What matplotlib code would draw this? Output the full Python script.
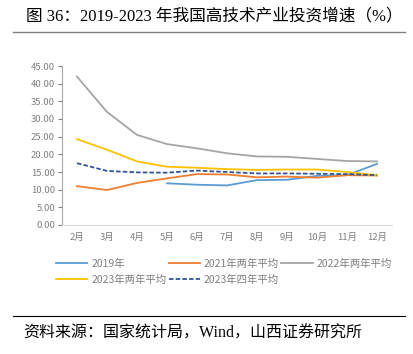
import numpy as np
import matplotlib.pyplot as plt
from matplotlib.lines import Line2D

plt.rcParams['font.family'] = ['Noto Sans CJK SC', 'DejaVu Sans']

months = ['2月', '3月', '4月', '5月', '6月', '7月', '8月', '9月', '10月', '11月', '12月']
y2019 = [np.nan, np.nan, np.nan, 11.8, 11.4, 11.2, 12.7, 12.8, 13.9, 14.1, 17.3]
y2021_avg2 = [11.0, 9.9, 11.9, 13.2, 14.4, 14.3, 13.5, 13.7, 13.4, 14.1, 14.0]
y2022_avg2 = [42.0, 32.0, 25.5, 22.9, 21.7, 20.3, 19.4, 19.3, 18.7, 18.1, 18.0]
y2023_avg2 = [24.3, 21.3, 18.0, 16.5, 16.2, 15.8, 15.6, 15.7, 15.7, 15.0, 14.1]
y2023_avg4 = [17.5, 15.3, 14.9, 14.8, 15.4, 15.0, 14.6, 14.6, 14.5, 14.4, 14.1]
yticks = np.arange(0, 50, 5)

fig = plt.figure(figsize=(4.13, 3.54), dpi=100)
ax = fig.add_axes([62/413, 1 - 225/354, (392 - 62)/413, (225 - 66)/354])

x = np.arange(len(months))
l1, = ax.plot(x, y2019, color='#5B9BD5', lw=1.3)
l2, = ax.plot(x, y2021_avg2, color='#ED7D31', lw=1.3)
l3, = ax.plot(x, y2022_avg2, color='#A5A5A5', lw=1.3)
l4, = ax.plot(x, y2023_avg2, color='#FFC000', lw=1.3)
l5, = ax.plot(x, y2023_avg4, color='#2F5597', lw=1.3, ls=(0, (2.5, 1.2)))

ax.set_xlim(-0.5, len(months) - 0.5)
ax.set_ylim(0, 45)
ax.set_yticks(yticks)
ax.set_yticklabels(['%.2f' % v for v in yticks])
ax.set_xticks(x)
ax.set_xticklabels(months)
ax.tick_params(axis='y', colors='#7F7F7F', labelsize=6.8, length=3, width=0.8, pad=2)
ax.tick_params(axis='x', colors='#7F7F7F', labelsize=6.8, length=0, pad=6)
for s in ['top', 'right']:
    ax.spines[s].set_visible(False)
ax.spines['left'].set_color('#A6A6A6')
ax.spines['bottom'].set_color('#D9D9D9')

# legend is filled column by column, so order items to read row by row
handles = [l1, l4, l2, l5, l3]
labels = ['2019年', '2023年两年平均', '2021年两年平均', '2023年四年平均', '2022年两年平均']
leg = fig.legend(handles, labels, ncol=3, loc='upper left', bbox_to_anchor=(56/413, 1 - 259/354),
                 frameon=False, fontsize=7.5, handlelength=3.0, handletextpad=0.4,
                 columnspacing=0.2, labelspacing=0.55, borderaxespad=0, borderpad=0)
for t in leg.get_texts():
    t.set_color('#7F7F7F')

fig.text(214/413, 1 - 16/354, '图 36：2019-2023 年我国高技术产业投资增速（%）', ha='center', va='center',
         fontsize=12, family=['Liberation Serif', 'Noto Sans CJK SC'])
fig.add_artist(Line2D([13/413, 405/413], [1 - 32/354, 1 - 32/354], color='#808080', lw=1.0))
fig.add_artist(Line2D([13/413, 405/413], [1 - 316/354, 1 - 316/354], color='#000000', lw=0.8))
fig.text(23/413, 1 - 334/354, '资料来源：国家统计局，Wind，山西证券研究所', ha='left', va='center',
         fontsize=11.5, family=['Liberation Serif', 'Noto Sans CJK SC'])

fig.savefig('out.png', dpi=100)
